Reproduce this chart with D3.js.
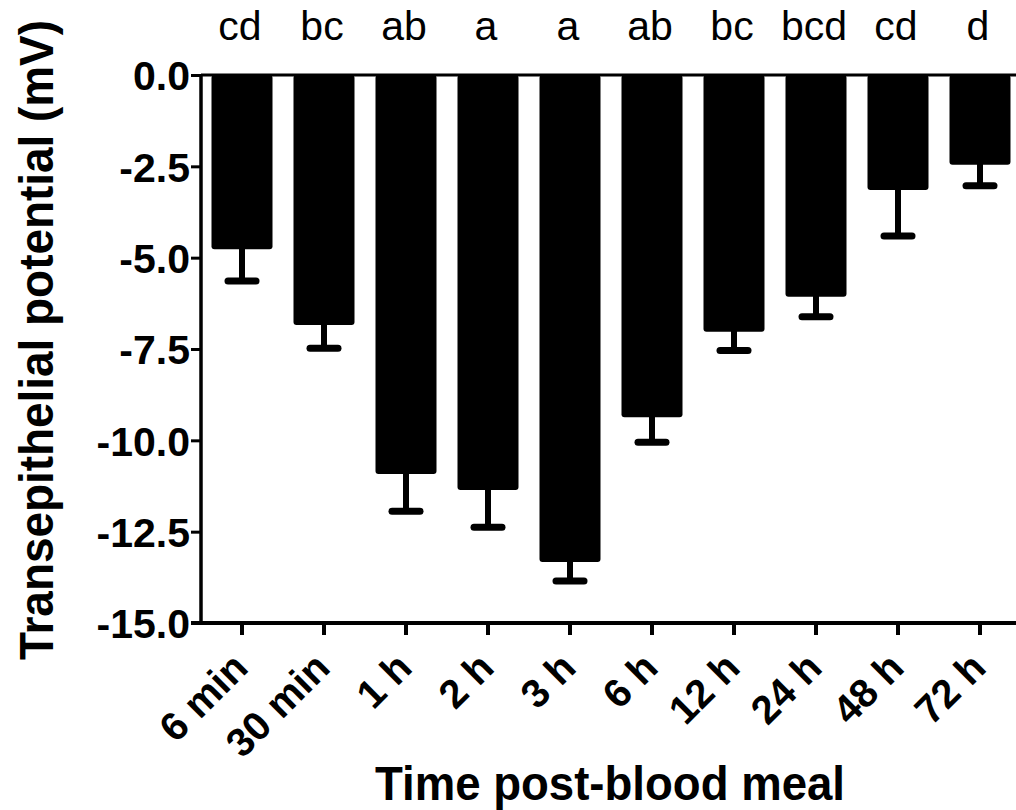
<!DOCTYPE html>
<html>
<head>
<meta charset="utf-8">
<script src="https://d3js.org/d3.v7.min.js"></script>
<style>
  body { margin: 0; background: #fff; }
  svg { display: block; }
  text { font-family: "Liberation Sans", Arial, Helvetica, sans-serif; fill: #000; }
</style>
</head>
<body>
<svg width="1016" height="810"></svg>
<script>
// Data
var categories = ["6 min", "30 min", "1 h", "2 h", "3 h", "6 h", "12 h", "24 h", "48 h", "72 h"];
var means = [-4.77, -6.84, -10.92, -11.36, -13.33, -9.37, -7.03, -6.07, -3.15, -2.46];
var sem = [0.87, 0.64, 1.02, 1.02, 0.52, 0.68, 0.51, 0.55, 1.26, 0.57];
var letters = ["cd", "bc", "ab", "a", "a", "ab", "bc", "bcd", "cd", "d"];
var yTicks = [0, -2.5, -5, -7.5, -10, -12.5, -15];

// plot box (note: "top" is taken by window.top, so use other names)
var svg = d3.select("svg"),
    plotLeft = 201, plotRight = 1021, plotTop = 75, plotBottom = 623;

var data = categories.map(function(c, i) {
    return {cat: c, mean: means[i], sem: sem[i], letter: letters[i]};
});

var x = d3.scaleBand()
    .domain(categories)
    .range([plotLeft, plotRight])
    .paddingInner(0.256)
    .paddingOuter(0.128);

var y = d3.scaleLinear()
    .domain([-15, 0])
    .range([plotBottom, plotTop]);

// bars
svg.selectAll(".bar")
    .data(data)
    .enter().append("rect")
    .attr("class", "bar")
    .attr("x", function(d) { return x(d.cat); })
    .attr("y", y(0))
    .attr("width", x.bandwidth())
    .attr("height", function(d) { return y(d.mean) - y(0); })
    .attr("rx", 3)
    .attr("fill", "#000");

// error bars (downward only)
var err = svg.selectAll(".err")
    .data(data)
    .enter().append("g")
    .attr("class", "err");

err.append("line")
    .attr("x1", function(d) { return x(d.cat) + x.bandwidth() / 2; })
    .attr("x2", function(d) { return x(d.cat) + x.bandwidth() / 2; })
    .attr("y1", function(d) { return y(d.mean) - 2; })
    .attr("y2", function(d) { return y(d.mean - d.sem); })
    .attr("stroke", "#000")
    .attr("stroke-width", 6);

err.append("line")
    .attr("x1", function(d) { return x(d.cat) + x.bandwidth() / 2 - 14; })
    .attr("x2", function(d) { return x(d.cat) + x.bandwidth() / 2 + 14; })
    .attr("y1", function(d) { return y(d.mean - d.sem); })
    .attr("y2", function(d) { return y(d.mean - d.sem); })
    .attr("stroke", "#000")
    .attr("stroke-width", 7)
    .attr("stroke-linecap", "round");

// zero line across the top
svg.append("line")
    .attr("x1", plotLeft)
    .attr("x2", 1016)
    .attr("y1", y(0))
    .attr("y2", y(0))
    .attr("stroke", "#000")
    .attr("stroke-width", 3);

// y axis
var yAxis = svg.append("g")
    .attr("class", "axis axis--y")
    .attr("transform", "translate(" + plotLeft + ",0)")
    .call(d3.axisLeft(y).tickValues(yTicks).tickSize(10).tickPadding(1).tickFormat(d3.format(".1f")));

yAxis.select(".domain").attr("stroke-width", 3.5).attr("d", "M0," + plotTop + "V" + plotBottom);
yAxis.selectAll(".tick line").attr("stroke-width", 3);
yAxis.selectAll(".tick text")
    .attr("font-size", 41)
    .attr("font-weight", "bold")
    .attr("dy", "0.36em")
    .text(function(d) { return d3.format(".1f")(d).replace("\u2212", "-"); });

// x axis
var xAxis = svg.append("g")
    .attr("class", "axis axis--x")
    .attr("transform", "translate(0," + plotBottom + ")")
    .call(d3.axisBottom(x).tickSize(12).tickSizeOuter(0));

xAxis.select(".domain").attr("stroke-width", 4).attr("d", "M" + (plotLeft - 10) + ",0H1016");
xAxis.selectAll(".tick line").attr("stroke-width", 4);
xAxis.selectAll(".tick text")
    .attr("font-size", 40)
    .attr("font-weight", "bold")
    .attr("text-anchor", "end")
    .attr("y", 0)
    .attr("dy", 0)
    .attr("transform", "translate(8,47) rotate(-45)");

// significance letters
svg.selectAll(".letter")
    .data(data)
    .enter().append("text")
    .attr("class", "letter")
    .attr("x", function(d) { return x(d.cat) + x.bandwidth() / 2 - 2; })
    .attr("y", 40)
    .attr("text-anchor", "middle")
    .attr("font-size", 41)
    .text(function(d) { return d.letter; });

// axis titles
svg.append("text")
    .attr("transform", "translate(53,340) rotate(-90)")
    .attr("text-anchor", "middle")
    .attr("font-size", 48)
    .attr("font-weight", "bold")
    .attr("textLength", 640)
    .attr("lengthAdjust", "spacingAndGlyphs")
    .text("Transepithelial potential (mV)");

svg.append("text")
    .attr("x", 610)
    .attr("y", 800)
    .attr("text-anchor", "middle")
    .attr("font-size", 48)
    .attr("font-weight", "bold")
    .attr("textLength", 470)
    .attr("lengthAdjust", "spacingAndGlyphs")
    .text("Time post-blood meal");
</script>
</body>
</html>
